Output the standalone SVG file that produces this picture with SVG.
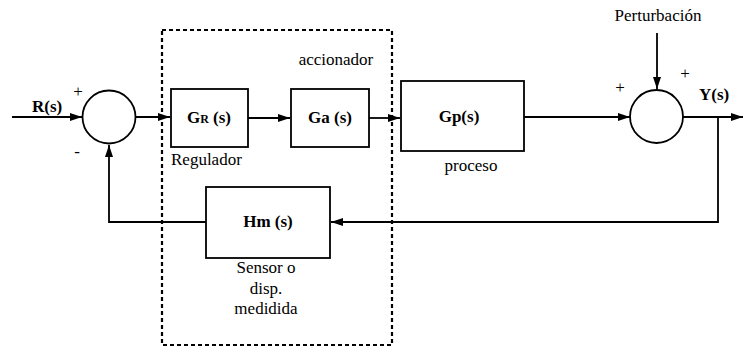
<svg xmlns="http://www.w3.org/2000/svg" width="743" height="347" viewBox="0 0 743 347" font-family="Liberation Serif, Times New Roman, serif">
<defs>
<marker id="ah" markerWidth="12" markerHeight="8" refX="12" refY="4" orient="auto" markerUnits="userSpaceOnUse">
<path d="M0,0 L12,4 L0,8 Z" fill="#000"/>
</marker>
<style>
.ln{fill:none;stroke:#000;stroke-width:1.8}
.bx{fill:#fff;stroke:#000;stroke-width:1.8}
.t{font-family:'Liberation Serif',serif;font-size:17px;fill:#000}
.b{font-family:'Liberation Serif',serif;font-size:17px;font-weight:bold;fill:#000}
.dash{fill:none;stroke:#000;stroke-width:2.2;stroke-dasharray:4 3}
</style>
</defs>
<rect width="743" height="347" fill="#fff"/>
<g id="connectors">
<line class="ln" x1="12" y1="117" x2="82" y2="117" marker-end="url(#ah)"/>
<line class="ln" x1="135" y1="117" x2="170" y2="117" marker-end="url(#ah)"/>
<line class="ln" x1="248" y1="118" x2="290" y2="118" marker-end="url(#ah)"/>
<line class="ln" x1="369" y1="118" x2="400" y2="118" marker-end="url(#ah)"/>
<line class="ln" x1="524" y1="117" x2="630" y2="117" marker-end="url(#ah)"/>
<line class="ln" x1="657" y1="33" x2="657" y2="89" marker-end="url(#ah)"/>
<line class="ln" x1="683" y1="117" x2="743" y2="117" marker-end="url(#ah)"/>
<polyline class="ln" points="718,117 718,222 331,222" marker-end="url(#ah)"/>
<polyline class="ln" points="206,222 109,222 109,145" marker-end="url(#ah)"/>
</g>
<rect class="dash" x="162" y="30" width="230" height="315"/>
<g id="sum1">
<circle class="bx" cx="109" cy="117" r="26.5"/>
<text class="t" x="78" y="97" text-anchor="middle" font-size="18">+</text>
<text class="t" x="77" y="157" text-anchor="middle" font-size="18">-</text>
</g>
<g id="sum2">
<circle class="bx" cx="656.5" cy="116.5" r="26.5"/>
<text class="t" x="620" y="93" text-anchor="middle" font-size="18">+</text>
<text class="t" x="685" y="79" text-anchor="middle" font-size="18">+</text>
</g>
<g id="GR">
<rect class="bx" x="171" y="89" width="77" height="58"/>
<text class="b" x="209" y="123" text-anchor="middle">G<tspan font-size="12">R</tspan> (s)</text>
<text class="t" x="171" y="165">Regulador</text>
</g>
<g id="Ga">
<rect class="bx" x="291" y="89" width="78" height="58"/>
<text class="b" x="330" y="123" text-anchor="middle">Ga (s)</text>
<text class="t" x="336" y="65" text-anchor="middle">accionador</text>
</g>
<g id="Gp">
<rect class="bx" x="401" y="81" width="123" height="70"/>
<text class="b" x="459" y="122" text-anchor="middle">Gp(s)</text>
<text class="t" x="471" y="171" text-anchor="middle">proceso</text>
</g>
<g id="Hm">
<rect class="bx" x="206" y="187" width="124" height="71"/>
<text class="b" x="268" y="227" text-anchor="middle">Hm (s)</text>
<text class="t" x="266" y="273" text-anchor="middle">Sensor o</text>
<text class="t" x="266" y="294" text-anchor="middle">disp.</text>
<text class="t" x="266" y="314" text-anchor="middle">medidida</text>
</g>
<g id="labels">
<text class="b" x="32" y="112">R(s)</text>
<text class="b" x="699" y="100">Y(s)</text>
<text class="t" x="658" y="21" text-anchor="middle">Perturbación</text>
</g>
</svg>
